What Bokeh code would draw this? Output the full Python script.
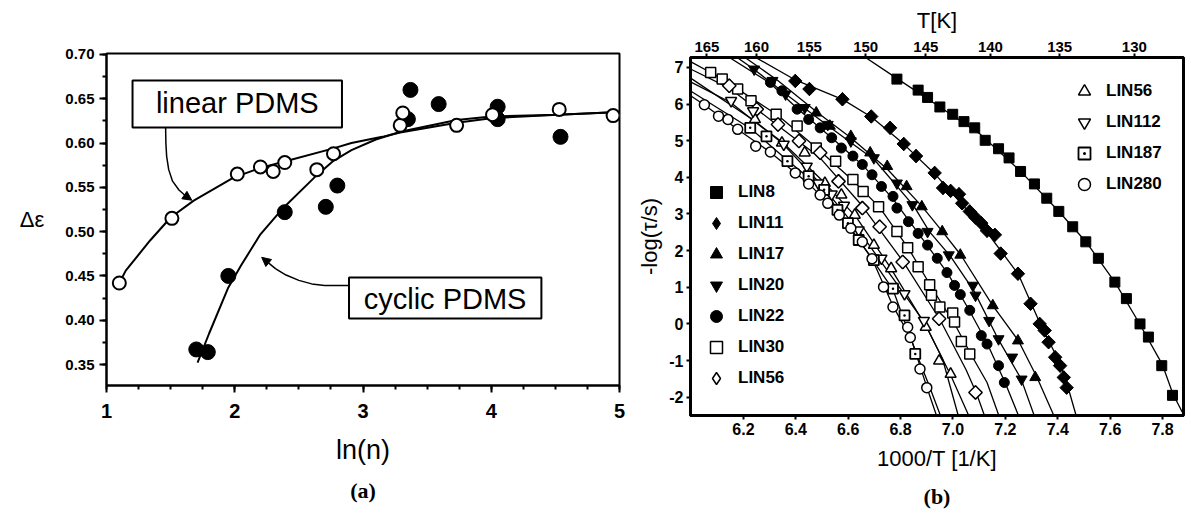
from bokeh.plotting import figure
from bokeh.layouts import row
from bokeh.models import (FixedTicker, NumeralTickFormatter, LinearAxis, Range1d, Label,
                          Arrow, NormalHead, Legend, LegendItem, CustomJSTickFormatter,
                          BoxAnnotation, Title)
from bokeh.embed import file_html
from bokeh.resources import INLINE

# ---------------- panel (a) data ----------------
a_xticks = [1, 2, 3, 4, 5]
a_yticks = [0.35, 0.40, 0.45, 0.50, 0.55, 0.60, 0.65, 0.70]

linear_x = [1.10, 1.51, 2.02, 2.20, 2.30, 2.39, 2.64, 2.77, 3.29, 3.31, 3.73, 4.01, 4.53, 4.95]
linear_y = [0.442, 0.515, 0.565, 0.573, 0.568, 0.578, 0.570, 0.588, 0.620, 0.634, 0.620, 0.632, 0.638, 0.631]

cyclic_x = [1.70, 1.79, 1.95, 2.39, 2.71, 2.80, 3.35, 3.37, 3.59, 4.05, 4.05, 4.54]
cyclic_y = [0.367, 0.364, 0.450, 0.522, 0.528, 0.552, 0.627, 0.660, 0.644, 0.641, 0.627, 0.607]

linear_fit_x = [1.10, 1.15, 1.34, 1.50, 1.68, 1.99, 2.20, 2.41, 2.77, 2.91, 3.15, 3.29, 3.73, 4.00, 4.52, 5.00]
linear_fit_y = [0.442, 0.456, 0.490, 0.516, 0.535, 0.561, 0.572, 0.580, 0.594, 0.600, 0.607, 0.612, 0.623, 0.628, 0.632, 0.635]

cyclic_fit_x = [1.71, 1.80, 1.95, 2.05, 2.20, 2.38, 2.62, 2.77, 2.91, 3.10, 3.30, 3.73, 4.00, 4.52, 5.00]
cyclic_fit_y = [0.352, 0.385, 0.437, 0.462, 0.497, 0.527, 0.561, 0.580, 0.592, 0.604, 0.613, 0.626, 0.630, 0.632, 0.635]

# ---------------- panel (b) data ----------------
b_xticks = [6.2, 6.4, 6.6, 6.8, 7.0, 7.2, 7.4, 7.6, 7.8]
b_yticks = [-2, -1, 0, 1, 2, 3, 4, 5, 6, 7]
T_ticks = [165, 160, 155, 150, 145, 140, 135, 130]

lin8_x = [6.786, 6.867, 6.903, 6.950, 6.999, 7.042, 7.083, 7.123, 7.174, 7.214, 7.258, 7.311,
          7.358, 7.404, 7.457, 7.507, 7.555, 7.618, 7.662, 7.714, 7.746, 7.797, 7.838]
lin8_y = [6.68, 6.38, 6.18, 5.92, 5.72, 5.52, 5.35, 5.01, 4.78, 4.53, 4.16, 3.82,
          3.43, 3.07, 2.65, 2.24, 1.79, 1.14, 0.69, 0.00, -0.36, -1.14, -1.95]
lin8_fx = [6.66, 6.79, 6.95, 7.10, 7.26, 7.40, 7.51, 7.62, 7.71, 7.80, 7.84, 7.882]
lin8_fy = [7.30, 6.68, 5.92, 5.20, 4.15, 3.10, 2.22, 1.12, 0.03, -1.12, -1.92, -2.50]

lin11_x = [6.398, 6.452, 6.578, 6.688, 6.760, 6.812, 6.859, 6.930, 6.962, 6.991, 7.023, 7.035,
           7.064, 7.086, 7.108, 7.130, 7.160, 7.182, 7.248, 7.296, 7.331, 7.350, 7.365, 7.390,
           7.409, 7.423, 7.434]
lin11_y = [6.63, 6.41, 6.13, 5.66, 5.35, 4.91, 4.58, 4.12, 3.71, 3.63, 3.54, 3.29,
           3.07, 2.90, 2.75, 2.54, 2.43, 1.92, 1.37, 0.55, 0.00, -0.18, -0.50, -0.91,
           -1.14, -1.46, -1.74]
lin11_fx = [6.24, 6.40, 6.58, 6.69, 6.81, 6.93, 7.03, 7.13, 7.25, 7.33, 7.41, 7.44, 7.47]
lin11_fy = [7.30, 6.65, 6.12, 5.64, 4.92, 4.10, 3.30, 2.50, 1.35, 0.05, -1.10, -1.75, -2.50]

lin17_x = [6.478, 6.530, 6.610, 6.684, 6.749, 6.823, 6.881, 6.959, 7.028, 7.152, 7.248, 7.314]
lin17_y = [5.76, 5.40, 5.12, 4.67, 4.30, 3.75, 3.20, 2.52, 1.88, 0.50, -0.46, -1.46]
lin17_fx = [6.20, 6.33, 6.48, 6.61, 6.75, 6.88, 6.96, 7.03, 7.15, 7.25, 7.32, 7.385]
lin17_fy = [7.30, 6.65, 5.78, 5.08, 4.22, 3.22, 2.52, 1.88, 0.52, -0.46, -1.45, -2.50]

lin20_x = [6.241, 6.311, 6.361, 6.434, 6.522, 6.610, 6.698, 6.786, 6.845, 6.903, 6.984, 7.076,
           7.086, 7.138, 7.174, 7.226, 7.262]
lin20_y = [6.95, 6.64, 6.27, 5.90, 5.44, 4.99, 4.53, 3.84, 3.25, 2.52, 1.88, 1.05,
           0.78, 0.09, -0.41, -0.91, -1.51]
lin20_fx = [6.17, 6.24, 6.36, 6.52, 6.70, 6.85, 6.91, 6.99, 7.08, 7.17, 7.26, 7.31]
lin20_fy = [7.30, 6.95, 6.28, 5.42, 4.48, 3.22, 2.52, 1.85, 0.90, -0.38, -1.50, -2.50]

lin22_x = [6.303, 6.347, 6.405, 6.449, 6.493, 6.537, 6.574, 6.618, 6.654, 6.691, 6.727, 6.771,
           6.786, 6.830, 6.867, 6.903, 6.940, 6.977, 7.006, 7.028, 7.064, 7.108, 7.130, 7.174, 7.196]
lin22_y = [6.59, 6.36, 5.86, 5.58, 5.35, 5.08, 4.80, 4.58, 4.35, 4.07, 3.75, 3.48,
           3.16, 2.79, 2.47, 2.15, 1.79, 1.40, 1.05, 0.80, 0.37, -0.32, -0.55, -1.14, -1.60]
lin22_fx = [6.14, 6.30, 6.41, 6.54, 6.66, 6.77, 6.87, 6.98, 7.06, 7.13, 7.20, 7.25]
lin22_fy = [7.30, 6.58, 5.85, 5.06, 4.30, 3.42, 2.45, 1.38, 0.40, -0.52, -1.62, -2.50]

lin30_x = [6.075, 6.119, 6.178, 6.229, 6.325, 6.405, 6.478, 6.552, 6.618, 6.657, 6.716, 6.786,
           6.827, 6.867, 6.911, 6.918, 6.950, 6.999, 7.006, 7.032, 7.064]
lin30_y = [6.86, 6.68, 6.41, 6.09, 5.72, 5.40, 4.80, 4.44, 3.94, 3.61, 3.20, 2.52,
           2.08, 1.56, 1.07, 0.78, 0.46, 0.30, 0.05, -0.48, -0.82]
lin30_fx = [6.00, 6.08, 6.18, 6.33, 6.48, 6.62, 6.72, 6.83, 6.92, 7.01, 7.07, 7.13, 7.175]
lin30_fy = [7.15, 6.84, 6.40, 5.70, 4.80, 3.90, 3.18, 2.06, 0.98, -0.05, -0.85, -1.60, -2.50]

lin56d_x = [6.146, 6.251, 6.332, 6.412, 6.493, 6.563, 6.654, 6.720, 6.808, 6.947, 7.086]
lin56d_y = [6.50, 5.86, 5.44, 4.99, 4.67, 3.89, 3.16, 2.65, 1.69, 0.14, -1.87]
lin56d_fx = [6.00, 6.15, 6.33, 6.49, 6.65, 6.81, 6.95, 7.05, 7.09, 7.12]
lin56d_fy = [6.95, 6.42, 5.42, 4.55, 3.25, 1.70, 0.12, -1.25, -1.90, -2.50]

lin56t_x = [6.244, 6.347, 6.434, 6.511, 6.574, 6.625, 6.698, 6.764, 6.896, 6.947, 6.991]
lin56t_y = [5.58, 4.94, 4.67, 3.84, 3.52, 2.97, 2.15, 1.51, -0.09, -1.01, -1.37]
lin56t_fx = [6.00, 6.24, 6.35, 6.51, 6.63, 6.76, 6.90, 6.99, 7.06]
lin56t_fy = [6.70, 5.55, 4.95, 3.85, 2.92, 1.55, -0.10, -1.38, -2.50]

lin112_x = [6.153, 6.237, 6.354, 6.442, 6.486, 6.537, 6.584, 6.640, 6.727, 6.815, 6.889]
lin112_y = [6.09, 5.81, 4.90, 4.30, 3.84, 3.54, 3.23, 2.56, 1.79, 0.82, 0.09]
lin112_fx = [6.00, 6.15, 6.35, 6.49, 6.64, 6.81, 6.89, 6.96, 7.02]
lin112_fy = [6.60, 6.05, 4.92, 3.85, 2.55, 0.85, 0.05, -0.95, -2.50]

lin187_x = [6.226, 6.288, 6.368, 6.449, 6.508, 6.559, 6.599, 6.640, 6.698, 6.771, 6.815, 6.856]
lin187_y = [5.35, 5.12, 4.44, 4.03, 3.66, 3.11, 2.75, 2.29, 1.74, 0.96, 0.23, -0.82]
lin187_fx = [6.00, 6.23, 6.37, 6.51, 6.64, 6.77, 6.86, 6.91, 6.952]
lin187_fy = [6.35, 5.32, 4.45, 3.63, 2.30, 0.95, -0.80, -1.70, -2.50]

lin280_x = [6.051, 6.105, 6.141, 6.178, 6.247, 6.303, 6.398, 6.449, 6.493, 6.522, 6.566, 6.610,
            6.654, 6.691, 6.735, 6.771, 6.827, 6.837, 6.874, 6.900]
lin280_y = [5.98, 5.67, 5.58, 5.31, 4.85, 4.69, 4.12, 3.82, 3.52, 3.29, 2.97, 2.61,
            2.24, 1.78, 1.01, 0.46, -0.09, -0.37, -1.23, -1.74]
lin280_fx = [6.00, 6.05, 6.18, 6.30, 6.45, 6.57, 6.69, 6.77, 6.84, 6.90, 6.937]
lin280_fy = [6.22, 5.98, 5.30, 4.70, 3.82, 2.95, 1.80, 0.50, -0.40, -1.72, -2.50]

FONT = "Liberation Sans"
SERIF = "Liberation Serif"
H = 522

# ================= panel (a) =================
p1 = figure(width=630, height=H, x_range=Range1d(1, 5), y_range=Range1d(0.3263, 0.7011),
            output_backend="svg", toolbar_location=None,
            min_border_left=106, min_border_right=11, min_border_top=53, min_border_bottom=H - 385)
p1.frame_align = False
p1.xgrid.visible = False
p1.ygrid.visible = False
p1.outline_line_color = "black"
p1.outline_line_width = 2
p1.outline_line_alpha = 1

xa1 = p1.below[0]
ya1 = p1.left[0]
xa1.ticker = FixedTicker(ticks=a_xticks, minor_ticks=[a_xticks[0] + 0.25 * i for i in range(17)])
xa1.formatter = NumeralTickFormatter(format="0")
ya1.ticker = FixedTicker(ticks=a_yticks, minor_ticks=[0.325 + 0.025 * i for i in range(16)])
ya1.formatter = NumeralTickFormatter(format="0.00")
for ax in (xa1, ya1):
    ax.axis_line_width = 2
    ax.major_tick_line_width = 2
    ax.minor_tick_line_width = 2
    ax.major_tick_in = 0
    ax.minor_tick_in = 0
    ax.major_tick_out = 7
    ax.minor_tick_out = 4
    ax.major_label_text_font = FONT
    ax.major_label_text_font_style = "bold"
    ax.major_label_text_color = "black"
    ax.axis_label_text_color = "black"
    ax.axis_label_text_font = FONT
    ax.axis_label_text_font_style = "normal"
xa1.major_label_text_font_size = "20px"
xa1.major_label_standoff = 11
ya1.major_label_text_font_size = "15px"
ya1.major_label_standoff = 5
xa1.axis_label = "ln(n)"
xa1.axis_label_text_font_size = "27px"
xa1.axis_label_standoff = 14

ya1.axis_label = "Δε"
ya1.axis_label_text_font_size = "22px"
if "axis_label_orientation" in ya1.properties():
    ya1.axis_label_orientation = "horizontal"
ya1.axis_label_standoff = 18

p1.line(linear_fit_x, linear_fit_y, line_color="black", line_width=2)
p1.line(cyclic_fit_x, cyclic_fit_y, line_color="black", line_width=2)
p1.scatter(cyclic_x, cyclic_y, marker="circle", size=15, fill_color="black", line_color="black")
p1.scatter(linear_x, linear_y, marker="circle", size=13, fill_color="white",
           line_color="black", line_width=2)

# label boxes
p1.add_layout(BoxAnnotation(left=1.203, right=2.836, bottom=0.6176, top=0.6706,
                            fill_color=None, line_color="black", line_width=2, line_alpha=1))
p1.add_layout(Label(x=2.02, y=0.6447, text="linear PDMS", text_font=FONT, text_color="black",
                    text_font_size="29px", text_align="center", text_baseline="middle"))
p1.add_layout(BoxAnnotation(left=2.891, right=4.391, bottom=0.4020, top=0.4482,
                            fill_color=None, line_color="black", line_width=2, line_alpha=1))
p1.add_layout(Label(x=3.64, y=0.4245, text="cyclic PDMS", text_font=FONT, text_color="black",
                    text_font_size="29px", text_align="center", text_baseline="middle"))

# arrows
arrow1_x = [1.461, 1.463, 1.469, 1.485, 1.515, 1.565, 1.620]
arrow1_y = [0.6176, 0.600, 0.585, 0.570, 0.557, 0.547, 0.540]
p1.line(arrow1_x, arrow1_y, line_color="black", line_width=1.5)
p1.add_layout(Arrow(end=NormalHead(size=9, fill_color="black", line_color="black"),
                    x_start=1.620, y_start=0.540, x_end=1.665, y_end=0.5355,
                    line_color="black", line_width=1.5))
arrow2_x = [2.891, 2.700, 2.600, 2.500, 2.400, 2.320]
arrow2_y = [0.4392, 0.4392, 0.4410, 0.4450, 0.4510, 0.4580]
p1.line(arrow2_x, arrow2_y, line_color="black", line_width=1.5)
p1.add_layout(Arrow(end=NormalHead(size=9, fill_color="black", line_color="black"),
                    x_start=2.320, y_start=0.4580, x_end=2.210, y_end=0.4710,
                    line_color="black", line_width=1.5))

p1.add_layout(Title(text="(a)", align="center", text_font=SERIF, text_font_style="bold",
                    text_font_size="22px", text_color="black", standoff=17), "below")

# ================= panel (b) =================
p2 = figure(width=556, height=H, x_range=Range1d(5.998, 7.880), y_range=Range1d(-2.5, 7.27),
            output_backend="svg", toolbar_location=None,
            min_border_left=60, min_border_right=3, min_border_top=57, min_border_bottom=H - 415)
p2.frame_align = False
p2.xgrid.visible = False
p2.ygrid.visible = False
p2.outline_line_color = "black"
p2.outline_line_width = 3
p2.outline_line_alpha = 1

xa2 = p2.below[0]
ya2 = p2.left[0]
xa2.ticker = FixedTicker(ticks=b_xticks, minor_ticks=[])
xa2.formatter = NumeralTickFormatter(format="0.0")
ya2.ticker = FixedTicker(ticks=b_yticks, minor_ticks=[])
ya2.formatter = NumeralTickFormatter(format="0")

top_axis = LinearAxis(ticker=FixedTicker(ticks=[1000.0 / t for t in T_ticks], minor_ticks=[]),
                      formatter=CustomJSTickFormatter(code="return (1000/tick).toFixed(0);"),
                      axis_label="T[K]")
p2.add_layout(top_axis, "above")

for ax in (xa2, ya2, top_axis):
    ax.axis_line_width = 3
    ax.major_tick_line_width = 2
    ax.major_tick_in = 0
    ax.major_tick_out = 4
    ax.major_label_text_font = FONT
    ax.major_label_text_font_style = "bold"
    ax.major_label_text_font_size = "16px"
    ax.major_label_text_color = "black"
    ax.major_label_standoff = 3
    ax.axis_label_text_font = FONT
    ax.axis_label_text_font_style = "normal"
    ax.axis_label_text_font_size = "22px"
    ax.axis_label_text_color = "black"
xa2.axis_label = "1000/T [1/K]"
xa2.axis_label_standoff = 8
ya2.axis_label = "-log(τ/s)"
ya2.axis_label_standoff = 4
top_axis.major_label_text_font_size = "15px"
top_axis.major_label_standoff = 2
top_axis.axis_label_standoff = 6

fits = [(lin8_fx, lin8_fy), (lin11_fx, lin11_fy), (lin17_fx, lin17_fy), (lin20_fx, lin20_fy),
        (lin22_fx, lin22_fy), (lin30_fx, lin30_fy), (lin56d_fx, lin56d_fy),
        (lin56t_fx, lin56t_fy), (lin112_fx, lin112_fy), (lin187_fx, lin187_fy),
        (lin280_fx, lin280_fy)]
for fx, fy in fits:
    p2.line(fx, fy, line_color="black", line_width=1.3)

DIAG = 0.7853981634
r8 = p2.scatter(lin8_x, lin8_y, marker="square", size=10, fill_color="black", line_color="black")
# diamond renderers (used by the legend) covered by rotated squares of the same data
r11 = p2.scatter(lin11_x, lin11_y, marker="diamond", size=13, fill_color="black",
                 line_color="black")
p2.scatter(lin11_x, lin11_y, marker="square", angle=DIAG, size=9.5, fill_color="black",
           line_color="black")
r17 = p2.scatter(lin17_x, lin17_y, marker="triangle", size=11, fill_color="black", line_color="black")
r20 = p2.scatter(lin20_x, lin20_y, marker="inverted_triangle", size=11, fill_color="black",
                 line_color="black")
r22 = p2.scatter(lin22_x, lin22_y, marker="circle", size=10, fill_color="black", line_color="black")
r30 = p2.scatter(lin30_x, lin30_y, marker="square", size=10, fill_color="white",
                 line_color="black", line_width=1.5)
r56d = p2.scatter(lin56d_x, lin56d_y, marker="diamond", size=13, fill_color="white",
                  line_color="black", line_width=1.5)
p2.scatter(lin56d_x, lin56d_y, marker="square", angle=DIAG, size=9.5, fill_color="white",
           line_color="black", line_width=1.5)
r56t = p2.scatter(lin56t_x, lin56t_y, marker="triangle", size=11, fill_color="white",
                  line_color="black", line_width=1.5)
r112 = p2.scatter(lin112_x, lin112_y, marker="inverted_triangle", size=11, fill_color="white",
                  line_color="black", line_width=1.5)
r187 = p2.scatter(lin187_x, lin187_y, marker="square_dot", size=10, fill_color="white",
                  line_color="black", line_width=1.8)
r280 = p2.scatter(lin280_x, lin280_y, marker="circle", size=10, fill_color="white",
                  line_color="black", line_width=1.5)

def make_legend(items, loc):
    return Legend(items=items, location=loc, orientation="vertical",
                  background_fill_alpha=0, border_line_alpha=0, padding=0, margin=0,
                  spacing=1, glyph_height=30, glyph_width=30, label_height=30,
                  label_standoff=7, label_text_font=FONT, label_text_font_style="bold",
                  label_text_font_size="17px", label_text_color="black")

left_legend = make_legend([
    LegendItem(label="LIN8", renderers=[r8]),
    LegendItem(label="LIN11", renderers=[r11]),
    LegendItem(label="LIN17", renderers=[r17]),
    LegendItem(label="LIN20", renderers=[r20]),
    LegendItem(label="LIN22", renderers=[r22]),
    LegendItem(label="LIN30", renderers=[r30]),
    LegendItem(label="LIN56", renderers=[r56d]),
], (11, 22))
right_legend = make_legend([
    LegendItem(label="LIN56", renderers=[r56t]),
    LegendItem(label="LIN112", renderers=[r112]),
    LegendItem(label="LIN187", renderers=[r187]),
    LegendItem(label="LIN280", renderers=[r280]),
], (379, 216))
p2.add_layout(left_legend)
p2.add_layout(right_legend)

p2.add_layout(Title(text="(b)", align="center", offset=29, text_font=SERIF, text_font_style="bold",
                    text_font_size="22px", text_color="black", standoff=17), "below")

layout = row(p1, p2, spacing=0)
open("out.html", "w").write(file_html(layout, INLINE))
